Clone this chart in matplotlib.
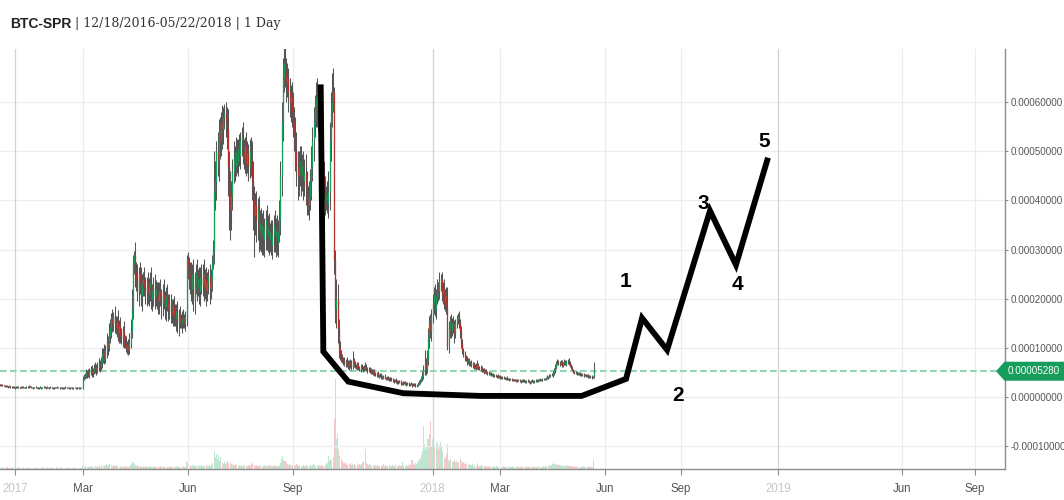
import numpy as np
import matplotlib
matplotlib.use('Agg')
import matplotlib.pyplot as plt
from matplotlib.patches import Polygon
from matplotlib.transforms import IdentityTransform

plt.rcParams['font.family'] = ['Liberation Sans', 'DejaVu Sans']

# daily closes BTC-SPR, 12/18/2016 .. 05/22/2018, in units of 1e-6 BTC
close = [
    26, 25, 24, 24, 23, 22, 23, 22, 21, 22,
    21, 20, 21, 20, 19, 20, 21, 20, 19, 20,
    21, 20, 20, 19, 20, 21, 22, 21, 20, 20,
    19, 20, 20, 19, 18, 19, 20, 19, 20, 21,
    20, 19, 20, 20, 19, 20, 19, 18, 19, 20,
    20, 19, 19, 20, 19, 18, 19, 19, 20, 19,
    19, 18, 19, 19, 18, 19, 19, 18, 19, 19,
    18, 19, 19, 40, 42, 45, 50, 48, 46, 52,
    55, 50, 53, 58, 60, 56, 62, 66, 64, 70,
    85, 90, 80, 95, 110, 105, 125, 140, 160, 150,
    165, 150, 140, 155, 130, 145, 125, 120, 135, 115,
    110, 100, 105, 96, 110, 135, 180, 270, 290, 255,
    240, 215, 250, 235, 205, 230, 240, 225, 215, 230,
    210, 225, 235, 200, 215, 225, 205, 220, 210, 195,
    215, 205, 190, 210, 200, 185, 205, 195, 180, 190,
    175, 170, 185, 165, 160, 175, 150, 165, 155, 150,
    160, 155, 150, 165, 280, 265, 250, 245, 220, 250,
    200, 235, 255, 225, 240, 215, 245, 230, 250, 225,
    240, 215, 235, 245, 220, 240, 275, 300, 420, 440,
    500, 480, 540, 520, 560, 545, 570, 575, 560, 545,
    470, 420, 380, 410, 460, 490, 470, 500, 480, 505,
    490, 520, 530, 500, 485, 510, 475, 495, 470, 500,
    480, 440, 400, 370, 390, 360, 380, 340, 355, 330,
    350, 320, 340, 360, 330, 345, 320, 335, 310, 330,
    350, 325, 340, 315, 335, 360, 450, 560, 650, 680,
    660, 640, 650, 620, 600, 610, 580, 560, 540, 500,
    470, 450, 460, 480, 450, 470, 440, 455, 430, 400,
    390, 410, 440, 470, 520, 560, 590, 610, 580, 600,
    560, 520, 480, 450, 430, 400, 410, 395, 420, 520,
    580, 600, 620, 280, 180, 200, 140, 100, 85, 80,
    76, 74, 70, 72, 68, 65, 70, 66, 63, 75,
    68, 64, 62, 66, 60, 58, 62, 59, 57, 60,
    62, 58, 55, 57, 54, 52, 50, 53, 48, 46,
    49, 45, 44, 46, 42, 40, 43, 39, 38, 41,
    37, 36, 38, 35, 34, 33, 35, 32, 31, 30,
    32, 28, 27, 30, 29, 26, 28, 27, 25, 27,
    26, 24, 26, 25, 23, 25, 27, 30, 34, 38,
    45, 55, 70, 60, 80, 120, 150, 135, 165, 190,
    210, 180, 205, 220, 215, 235, 240, 210, 220, 195,
    205, 185, 105, 140, 155, 135, 150, 145, 130, 150,
    160, 165, 150, 135, 110, 95, 88, 82, 78, 72,
    75, 68, 70, 65, 67, 62, 64, 60, 66, 60,
    58, 61, 55, 56, 52, 54, 50, 51, 48, 49,
    46, 47, 44, 45, 43, 44, 42, 43, 41, 40,
    41, 39, 38, 40, 37, 38, 36, 37, 35, 36,
    34, 35, 33, 34, 35, 33, 32, 34, 33, 32,
    31, 33, 32, 30, 31, 33, 32, 31, 33, 34,
    32, 35, 36, 34, 35, 37, 36, 38, 40, 42,
    41, 44, 46, 45, 49, 55, 62, 70, 72, 70,
    68, 71, 66, 69, 72, 68, 73, 75, 70, 65,
    60, 55, 52, 50, 51, 48, 49, 47, 48, 46,
    47, 45, 46, 44, 45, 43, 42, 43, 41, 42,
    52.8,
]

# upper / lower wick beyond the candle body, same units
wick_up = [
    2, 1, 1, 2, 1, 1, 2, 1, 1, 2,
    1, 1, 2, 1, 1, 2, 1, 1, 1, 2,
    1, 2, 1, 1, 2, 1, 2, 1, 1, 1,
    1, 1, 2, 1, 1, 1, 2, 1, 1, 2,
    1, 1, 2, 1, 1, 2, 1, 1, 2, 1,
    1, 2, 1, 1, 1, 2, 1, 1, 2, 1,
    1, 1, 2, 1, 1, 1, 2, 1, 1, 1,
    1, 1, 2, 4, 6, 5, 8, 6, 9, 7,
    8, 10, 6, 9, 12, 8, 10, 14, 9, 12,
    15, 10, 18, 12, 20, 15, 25, 18, 12, 20,
    8, 20, 15, 10, 22, 12, 18, 15, 10, 20,
    12, 15, 10, 14, 20, 25, 40, 20, 8, 25,
    20, 30, 15, 25, 30, 20, 15, 25, 20, 15,
    25, 18, 20, 30, 15, 20, 25, 18, 15, 25,
    20, 25, 15, 20, 30, 15, 20, 25, 15, 20,
    20, 25, 15, 20, 25, 15, 20, 15, 20, 15,
    15, 20, 15, 10, 10, 15, 20, 25, 30, 20,
    30, 20, 15, 25, 20, 25, 20, 25, 20, 30,
    20, 25, 20, 15, 25, 20, 15, 20, 80, 40,
    20, 40, 25, 30, 20, 35, 20, 22, 25, 30,
    40, 30, 40, 30, 25, 30, 20, 30, 25, 20,
    30, 20, 19, 30, 25, 20, 30, 25, 20, 25,
    30, 40, 40, 30, 25, 30, 25, 30, 25, 30,
    25, 30, 25, 20, 30, 25, 30, 20, 25, 30,
    20, 30, 25, 30, 25, 40, 30, 40, 40, 30,
    40, 30, 30, 20, 30, 25, 30, 40, 30, 30,
    40, 30, 40, 30, 30, 25, 30, 30, 40, 30,
    30, 30, 25, 40, 30, 30, 25, 30, 40, 30,
    30, 30, 30, 30, 30, 20, 20, 30, 40, 40,
    40, 60, 50, 10, 20, 40, 30, 20, 15, 10,
    8, 6, 8, 6, 10, 8, 6, 8, 10, 18,
    5, 6, 4, 5, 6, 4, 5, 6, 4, 5,
    10, 5, 4, 5, 4, 5, 6, 4, 5, 4,
    3, 4, 3, 4, 3, 4, 3, 4, 3, 3,
    3, 4, 3, 3, 4, 3, 3, 4, 3, 3,
    3, 2, 3, 3, 2, 3, 3, 2, 3, 2,
    3, 2, 3, 2, 3, 2, 3, 4, 4, 6,
    8, 10, 26, 10, 15, 20, 15, 20, 15, 20,
    15, 20, 15, 20, 15, 20, 10, 15, 15, 20,
    15, 20, 40, 15, 10, 15, 12, 15, 12, 10,
    8, 6, 10, 8, 10, 8, 6, 5, 4, 6,
    4, 5, 4, 5, 4, 5, 4, 5, 10, 4,
    3, 4, 3, 4, 3, 3, 4, 3, 3, 2,
    3, 2, 3, 2, 3, 2, 3, 2, 2, 3,
    2, 3, 2, 2, 3, 2, 2, 3, 2, 2,
    2, 2, 3, 2, 2, 3, 2, 2, 2, 3,
    2, 2, 3, 2, 2, 2, 3, 2, 2, 2,
    3, 2, 2, 3, 2, 2, 3, 2, 2, 3,
    2, 3, 2, 3, 4, 5, 6, 4, 5, 4,
    4, 5, 4, 3, 5, 4, 3, 2, 4, 3,
    3, 4, 3, 2, 3, 2, 3, 2, 3, 2,
    2, 3, 2, 2, 3, 2, 2, 3, 2, 2,
    18,
]

wick_dn = [
    1, 2, 1, 1, 1, 2, 1, 1, 2, 1,
    2, 1, 1, 1, 2, 1, 1, 2, 1, 1,
    1, 1, 2, 1, 1, 1, 2, 1, 2, 1,
    2, 1, 1, 1, 2, 1, 1, 2, 1, 1,
    1, 2, 1, 1, 2, 1, 1, 2, 1, 1,
    2, 1, 1, 2, 1, 1, 1, 2, 1, 1,
    1, 2, 1, 1, 1, 2, 1, 1, 2, 1,
    1, 1, 1, 2, 5, 4, 6, 8, 5, 6,
    6, 8, 9, 5, 8, 10, 7, 9, 12, 8,
    10, 15, 12, 10, 15, 20, 12, 15, 20, 18,
    15, 20, 12, 18, 15, 20, 15, 12, 18, 15,
    10, 8, 12, 10, 8, 10, 15, 20, 20, 30,
    25, 20, 30, 25, 20, 30, 25, 20, 25, 30,
    20, 25, 30, 20, 25, 30, 25, 20, 30, 25,
    25, 20, 30, 25, 20, 25, 30, 20, 25, 20,
    25, 20, 25, 20, 15, 25, 20, 25, 15, 10,
    20, 15, 10, 15, 20, 25, 30, 35, 25, 30,
    25, 30, 25, 30, 20, 25, 30, 20, 25, 30,
    25, 30, 20, 25, 30, 20, 25, 15, 30, 40,
    40, 30, 40, 35, 30, 40, 30, 25, 30, 40,
    60, 80, 60, 40, 30, 25, 30, 20, 25, 30,
    20, 25, 30, 25, 20, 30, 25, 20, 30, 25,
    30, 40, 60, 85, 40, 45, 40, 45, 40, 35,
    40, 30, 35, 40, 30, 35, 30, 25, 20, 30,
    35, 30, 40, 25, 30, 20, 30, 40, 40, 30,
    30, 40, 30, 40, 30, 40, 30, 30, 40, 40,
    40, 50, 40, 30, 40, 30, 40, 30, 40, 30,
    20, 30, 30, 40, 30, 40, 30, 40, 30, 40,
    40, 40, 30, 30, 30, 30, 20, 20, 30, 40,
    40, 30, 20, 30, 30, 40, 30, 20, 10, 8,
    6, 8, 6, 8, 6, 8, 10, 6, 8, 5,
    6, 4, 5, 6, 4, 5, 6, 4, 5, 4,
    5, 4, 5, 4, 5, 4, 3, 4, 5, 3,
    4, 3, 4, 3, 4, 3, 4, 3, 3, 4,
    3, 3, 4, 3, 3, 4, 3, 3, 4, 3,
    2, 3, 2, 3, 3, 2, 3, 2, 3, 2,
    2, 3, 2, 3, 2, 3, 2, 3, 3, 4,
    5, 8, 10, 15, 10, 15, 20, 15, 20, 15,
    20, 15, 20, 15, 20, 15, 20, 15, 20, 15,
    20, 15, 10, 15, 20, 15, 10, 15, 20, 10,
    10, 12, 10, 15, 10, 8, 6, 8, 5, 6,
    5, 4, 5, 4, 5, 4, 5, 4, 3, 4,
    3, 4, 3, 3, 4, 3, 3, 4, 3, 3,
    2, 3, 2, 3, 2, 3, 2, 2, 3, 2,
    3, 2, 2, 3, 2, 2, 3, 2, 2, 3,
    2, 2, 3, 2, 2, 2, 3, 2, 2, 2,
    2, 3, 2, 2, 3, 2, 2, 2, 3, 2,
    2, 2, 3, 2, 2, 3, 2, 2, 3, 2,
    3, 2, 3, 2, 3, 4, 5, 4, 5, 4,
    4, 3, 4, 5, 4, 3, 4, 5, 4, 3,
    3, 2, 3, 2, 3, 2, 3, 2, 3, 2,
    2, 3, 2, 2, 2, 3, 2, 2, 3, 2,
    2,
]

# daily volume (relative units)
volume = [
    2, 1, 1, 2, 1, 1, 1, 2, 1, 1,
    1, 1, 2, 1, 1, 1, 1, 2, 1, 1,
    1, 2, 1, 1, 1, 1, 2, 1, 1, 1,
    1, 1, 1, 2, 1, 1, 1, 1, 2, 1,
    1, 1, 2, 1, 1, 1, 2, 1, 1, 1,
    2, 1, 1, 1, 1, 2, 1, 1, 1, 1,
    1, 2, 1, 1, 1, 1, 2, 1, 1, 1,
    1, 1, 1, 4, 3, 2, 3, 2, 2, 3,
    2, 3, 2, 2, 3, 2, 3, 2, 3, 2,
    4, 3, 3, 4, 5, 3, 4, 5, 4, 3,
    4, 3, 3, 4, 3, 2, 3, 2, 3, 2,
    2, 3, 2, 2, 3, 4, 5, 8, 6, 4,
    3, 4, 3, 2, 3, 2, 3, 2, 2, 3,
    2, 2, 3, 2, 2, 3, 2, 2, 3, 2,
    2, 3, 2, 2, 2, 3, 2, 2, 2, 3,
    2, 2, 3, 2, 2, 2, 3, 2, 2, 2,
    2, 3, 2, 2, 8, 6, 5, 4, 3, 4,
    3, 4, 3, 3, 4, 3, 3, 4, 3, 3,
    3, 4, 3, 3, 4, 3, 4, 6, 18, 12,
    15, 10, 14, 8, 12, 6, 5, 7, 5, 6,
    8, 6, 7, 5, 4, 5, 4, 4, 5, 3,
    4, 3, 4, 3, 3, 4, 3, 3, 4, 3,
    4, 5, 6, 4, 3, 4, 3, 3, 4, 3,
    3, 3, 4, 3, 3, 3, 4, 3, 3, 3,
    3, 4, 3, 3, 3, 4, 6, 10, 13, 9,
    8, 6, 5, 4, 5, 4, 3, 4, 3, 4,
    5, 4, 3, 4, 3, 3, 4, 3, 3, 4,
    3, 3, 4, 3, 4, 5, 4, 3, 4, 3,
    4, 3, 4, 3, 3, 4, 5, 6, 13, 8,
    10, 9, 12, 50, 90, 30, 35, 20, 13, 10,
    8, 6, 7, 5, 6, 4, 5, 6, 4, 5,
    4, 5, 4, 6, 4, 5, 4, 5, 6, 8,
    20, 6, 5, 4, 5, 4, 3, 4, 3, 4,
    3, 4, 3, 3, 4, 3, 5, 3, 4, 3,
    3, 4, 3, 3, 4, 3, 3, 4, 3, 3,
    4, 3, 3, 7, 4, 3, 4, 3, 4, 5,
    4, 9, 5, 4, 6, 5, 7, 8, 10, 14,
    18, 43, 25, 20, 22, 30, 35, 48, 23, 30,
    27, 22, 25, 27, 20, 24, 27, 22, 18, 10,
    12, 15, 25, 9, 8, 10, 7, 8, 9, 7,
    8, 6, 7, 10, 8, 6, 7, 5, 6, 5,
    4, 5, 4, 4, 5, 3, 4, 3, 6, 3,
    3, 3, 4, 3, 3, 3, 2, 3, 3, 2,
    3, 2, 3, 2, 2, 3, 2, 2, 3, 2,
    2, 3, 2, 2, 2, 3, 2, 2, 2, 3,
    2, 2, 3, 2, 2, 2, 2, 3, 2, 2,
    2, 3, 2, 2, 2, 2, 3, 2, 2, 2,
    2, 2, 3, 2, 2, 2, 3, 2, 3, 3,
    3, 4, 3, 4, 5, 6, 5, 4, 5, 4,
    4, 3, 4, 3, 3, 4, 3, 4, 3, 3,
    3, 3, 2, 3, 2, 2, 3, 2, 2, 2,
    2, 3, 2, 2, 2, 3, 2, 2, 2, 2,
    9,
]

last_price = 52.8

# x axis: bar index (day 0 = 12/18/2016), future part spaced by weekdays
tick_pos = [14, 73, 165, 257, 379, 438, 530, 596, 681, 789, 853]
tick_labels = ['2017', 'Mar', 'Jun', 'Sep', '2018', 'Mar', 'Jun', 'Sep', '2019', 'Jun', 'Sep']
year_ticks = ['2017', '2018', '2019']

# hand drawn projection line and wave counts
path_x = [281.2, 283.5, 305.3, 353.4, 420.5, 509.3, 548.1, 562.1, 584.0, 621.5, 644.2, 672.2]
path_y = [636, 92.7, 31.7, 8.1, 2.6, 2.6, 37.2, 161, 96, 379, 269, 487]
count_labels = ['1', '2', '3', '4', '5']
count_x = [547.2, 593.5, 615.4, 645.1, 668.7]
count_y = [236, 2.6, 393, 230, 519]

c = np.array(close) * 1e-6
o = np.r_[c[0], c[:-1]]
hi = np.maximum(o, c) + np.array(wick_up) * 1e-6
lo = np.minimum(o, c) - np.array(wick_dn) * 1e-6
x = np.arange(len(c))
up = c >= o

green = '#12a05c'
red = '#b3302c'

fig = plt.figure(figsize=(10.64, 5), dpi=100)
rect = [0, 31 / 500, 1004.7 / 1064, 420 / 500]
xlim = (0.87, 879.1)

# volume pane behind the price
axv = fig.add_axes(rect, zorder=0)
axv.bar(x, volume, width=0.9, color=np.where(up, '#bfe6d1', '#f3caca'), linewidth=0)
axv.set_xlim(*xlim)
axv.set_ylim(0, 420)
axv.axis('off')

ax = fig.add_axes(rect, zorder=1)
ax.patch.set_alpha(0)
ax.set_xlim(*xlim)
ax.set_ylim(-146e-6, 708e-6)

yt = np.arange(-1, 7) * 1e-4
ax.set_yticks(yt)
ax.set_yticklabels([f'{v:.8f}' for v in yt])
ax.yaxis.tick_right()
ax.tick_params(axis='y', length=2.5, pad=1.5, labelsize=7.1, labelcolor='#555555', color='#8c8c8c')
for v in yt:
    ax.axhline(v, color='#ebebf0', lw=0.9, zorder=0.5)

ax.set_xticks(tick_pos)
ax.set_xticklabels(tick_labels)
ax.tick_params(axis='x', length=4, pad=6, labelsize=8.3, color='#8c8c8c')
for lab in ax.get_xticklabels():
    lab.set_color('#c6c6c6' if lab.get_text() in year_ticks else '#555555')
for p, lab in zip(tick_pos, tick_labels):
    ax.axvline(p, color='#d2d2d2' if lab in year_ticks else '#ebebf0', lw=0.9, zorder=0.5)

for s in ['top', 'left']:
    ax.spines[s].set_visible(False)
for s in ['right', 'bottom']:
    ax.spines[s].set_color('#8c8c8c')
    ax.spines[s].set_linewidth(1)

ax.axhline(last_price * 1e-6, color='#93d6b2', lw=1.5, dashes=(3.2, 1.6), zorder=1)

# candles
ax.vlines(x, lo, hi, color='#555555', lw=0.75, zorder=2)
ax.vlines(x, o, c, colors=np.where(up, green, red), lw=0.9, zorder=3)

ax.plot(path_x, np.array(path_y) * 1e-6, color='black', lw=4.2,
        solid_joinstyle='miter', solid_capstyle='butt', zorder=5)
for s, cx, cy in zip(count_labels, count_x, count_y):
    ax.text(cx, cy * 1e-6, s, fontsize=15, fontweight='bold', ha='center', va='center',
            color='black', zorder=6)

# last price tag on the right axis
ypix = ax.transData.transform((0, last_price * 1e-6))[1]
tag = [(996, ypix), (1004.5, ypix + 9.5), (1064, ypix + 9.5), (1064, ypix - 9.5), (1004.5, ypix - 9.5)]
fig.add_artist(Polygon(tag, closed=True, transform=IdentityTransform(), fc='#169c5b', ec='none', zorder=10))
fig.text(1007.5 / 1064, ypix / 500, f'{last_price * 1e-6:.8f}', color='white', fontsize=7.1,
         va='center', ha='left', zorder=11)

# header
fig.text(10 / 1064, 1 - 24 / 500, 'BTC-SPR', fontsize=10, fontweight='bold', va='center', color='#222222')
fig.text(75 / 1064, 1 - 24 / 500, '| 12/18/2016-05/22/2018 | 1 Day', fontsize=9,
         family='DejaVu Serif', va='center', color='#333333')

fig.savefig('out.png', dpi=100, facecolor='white')
